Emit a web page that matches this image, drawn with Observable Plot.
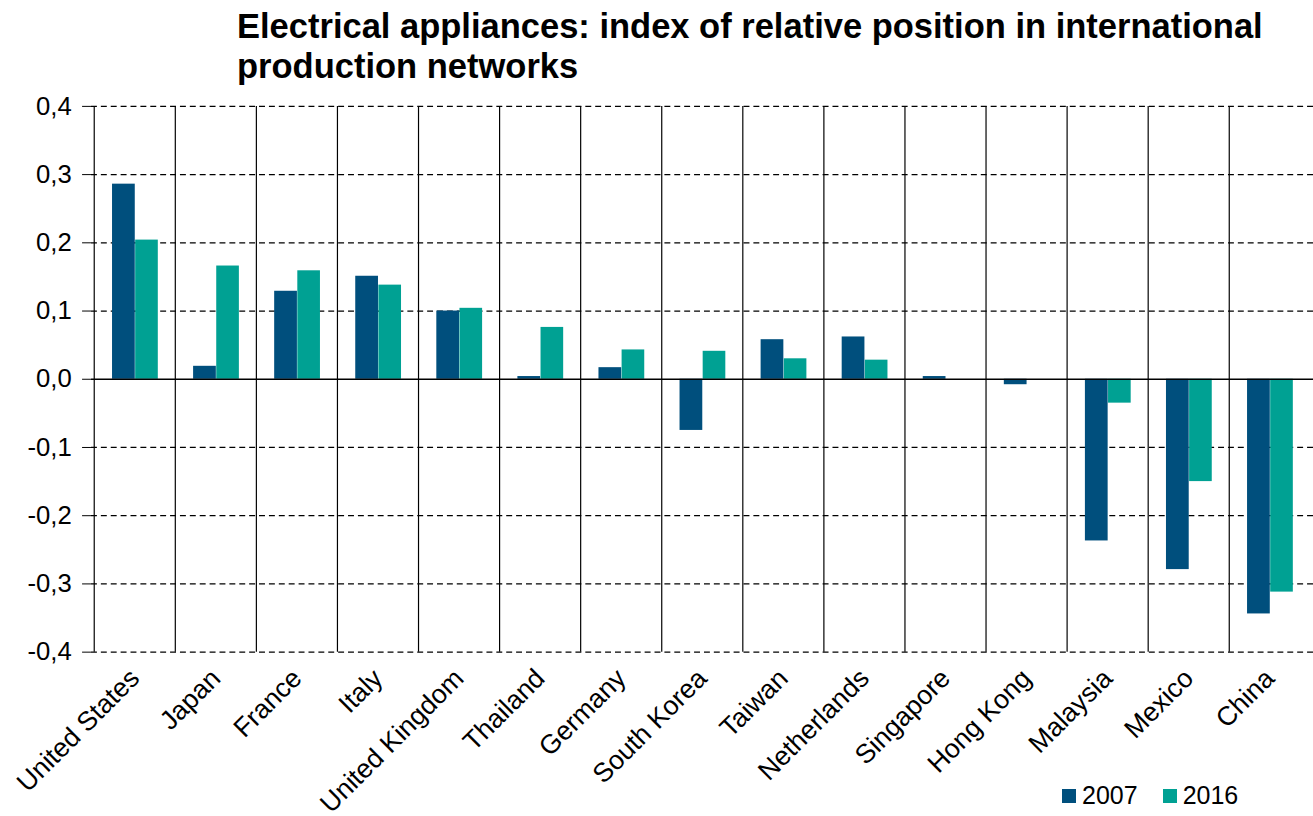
<!DOCTYPE html>
<html>
<head>
<meta charset="utf-8">
<script src="https://cdn.jsdelivr.net/npm/d3@7"></script>
<script src="https://cdn.jsdelivr.net/npm/@observablehq/plot@0.6"></script>
<style>
  html, body { margin: 0; padding: 0; background: #fff; overflow: hidden; width: 1313px; height: 816px; }
  #title {
    position: absolute; left: 237px; top: 6px;
    font-family: "Liberation Sans", Arial, sans-serif; font-weight: bold;
    font-size: 34.5px; line-height: 40px; color: #000; white-space: nowrap;
  }
  #chart { position: absolute; left: 0; top: 96px; }
  #legend { position: absolute; left: 1062px; top: 779px; }
  #legend, #legend span, #legend div {
    font-family: "Liberation Sans", Arial, sans-serif !important;
    font-size: 25px !important; color: #000 !important;
  }
  #legend svg { margin-right: 6px !important; }
</style>
</head>
<body>
<div id="title">Electrical appliances: index of relative position in international<br>production networks</div>
<div id="chart"></div>
<div id="legend"></div>
<script>
// Countries, in drawing order
const countries = ["United States", "Japan", "France", "Italy", "United Kingdom", "Thailand",
  "Germany", "South Korea", "Taiwan", "Netherlands", "Singapore", "Hong Kong",
  "Malaysia", "Mexico", "China"];

// Index of relative position, per year
const values2007 = [0.286, 0.019, 0.129, 0.151, 0.100, 0.004, 0.017, -0.075, 0.058, 0.062, 0.004, -0.008, -0.237, -0.279, -0.344];
const values2016 = [0.204, 0.166, 0.159, 0.138, 0.104, 0.076, 0.043, 0.041, 0.030, 0.028, 0.000, 0.000, -0.035, -0.150, -0.312];

const years = ["2007", "2016"];
const yearColors = ["#004f7d", "#00a193"];
const yTicks = [-0.4, -0.3, -0.2, -0.1, 0, 0.1, 0.2, 0.3, 0.4];

const rows2007 = countries.map((country, i) => ({country, year: years[0], value: values2007[i]}));
const rows2016 = countries.map((country, i) => ({country, year: years[1], value: values2016[i]}));

const width = 1328, marginLeft = 92, marginRight = 0;
const step = (width - marginLeft - marginRight) / countries.length;
const fmt = d => d.toFixed(1).replace(".", ",");
const font = "'Liberation Sans', Arial, sans-serif";

const chart = Plot.plot({
  width, height: 727,
  marginTop: 10, marginBottom: 165, marginLeft, marginRight,
  style: {fontFamily: font, fontSize: "26px", color: "#000", background: "#fff", overflow: "visible"},
  x: {domain: countries, padding: 0, label: null},
  y: {domain: [-0.4, 0.4], label: null},
  color: {domain: years, range: yearColors},
  marks: [
    // dashed horizontal grid
    Plot.ruleY(yTicks.filter(d => d !== 0), {stroke: "#000", strokeWidth: 1.3, strokeDasharray: "6,4"}),
    // solid separators between country groups
    Plot.ruleX(countries, {x: d => d, y1: -0.4, y2: 0.4, dx: -step / 2, stroke: "#000", strokeWidth: 1.2}),
    Plot.barY(rows2007, {x: "country", y: "value", fill: "year", insetLeft: 18.3, insetRight: step - 41.7}),
    Plot.barY(rows2016, {x: "country", y: "value", fill: "year", insetLeft: 41.7, insetRight: step - 65}),
    Plot.ruleY([0], {stroke: "#000", strokeWidth: 1.3}),
    Plot.axisY({ticks: yTicks, tickFormat: fmt, tickSize: 9, tickPadding: 11, label: null}),
    Plot.axisX({tickRotate: -45, tickSize: 0, tickPadding: 22, fontSize: 27, label: null})
  ]
});
document.getElementById("chart").appendChild(chart);

const legend = Plot.legend({
  color: {domain: years, range: yearColors},
  swatchSize: 14,
  style: {fontFamily: font, fontSize: "25px", color: "#000"}
});
document.getElementById("legend").appendChild(legend);
</script>
</body>
</html>
